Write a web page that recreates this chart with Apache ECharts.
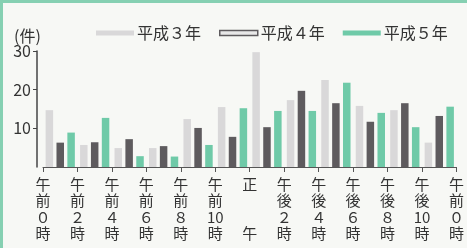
<!DOCTYPE html>
<html>
<head>
<meta charset="utf-8">
<script src="https://cdn.jsdelivr.net/npm/echarts@6/dist/echarts.min.js"></script>
<style>
  html, body { margin: 0; padding: 0; }
  #chart {
    width: 467px;
    height: 248px;
    background: #f7f8f5;
    box-shadow: inset 3px 3px 0 #86d0b2;
  }
</style>
</head>
<body>
<div id="chart"></div>
<script>
// 2時間ごとの区間 (12区間)
const groups = ['0-2', '2-4', '4-6', '6-8', '8-10', '10-12', '12-14', '14-16', '16-18', '18-20', '20-22', '22-24']
// 区間の境目に置く目盛りラベル
const tickLabels = [
  '午\n前\n０\n時', '午\n前\n２\n時', '午\n前\n４\n時', '午\n前\n６\n時', '午\n前\n８\n時',
  '午\n前\n10\n時', '正\n\n\n午', '午\n後\n２\n時', '午\n後\n４\n時', '午\n後\n６\n時',
  '午\n後\n８\n時', '午\n後\n10\n時', '午\n前\n０\n時'
]
const seriesNames = ['平成３年', '平成４年', '平成５年']
const h3 = [14.7, 5.7, 4.9, 4.9, 12.4, 15.5, 29.7, 17.3, 22.5, 15.8, 14.7, 6.3]
const h4 = [6.3, 6.4, 7.2, 5.4, 10.1, 7.8, 10.3, 19.7, 16.5, 11.7, 16.5, 13.2]
const h5 = [8.9, 12.7, 2.8, 2.7, 5.7, 15.2, 14.5, 14.5, 21.8, 14.0, 10.3, 15.6]
const yTicks = [0, 10, 20, 30]

const font = '"Noto Sans CJK JP", "Noto Sans", sans-serif'
const colors = ['#d9d8d9', '#5e5b5e', '#6fcaa8']

const chart = echarts.init(document.getElementById('chart'))
chart.setOption({
  animation: false,
  textStyle: { fontFamily: font },
  title: {
    text: '(件)',
    left: 9,
    top: 23,
    textStyle: { fontSize: 16, fontWeight: 'normal', color: '#333', fontFamily: font }
  },
  legend: {
    top: 20,
    left: 91,
    itemWidth: 38,
    itemHeight: 5,
    itemGap: 18,
    icon: 'rect',
    textStyle: { fontSize: 16, color: '#333', fontFamily: font, padding: [0, 0, 0, -2] },
    data: [
      { name: seriesNames[0], itemStyle: { color: colors[0] } },
      { name: seriesNames[1], itemStyle: { color: '#e8e8e8', borderColor: colors[1], borderWidth: 1.5 } },
      { name: seriesNames[2], itemStyle: { color: colors[2] } }
    ]
  },
  grid: {
    left: 43,
    right: 7,
    top: 51,
    bottom: 81
  },
  xAxis: [{
    type: 'category',
    position: 'bottom',
    data: groups,
    boundaryGap: true,
    axisLine: { lineStyle: { color: '#555', width: 1 } },
    axisTick: { show: true, interval: 0, length: 5, lineStyle: { color: '#555' } },
    axisLabel: { show: false }
  }, {
    type: 'category',
    position: 'bottom',
    data: tickLabels,
    boundaryGap: false,
    axisLine: { show: false },
    axisTick: { show: false },
    axisLabel: {
      interval: 0,
      margin: 9,
      fontSize: 15,
      lineHeight: 16.5,
      color: '#333',
      fontFamily: font
    }
  }],
  yAxis: {
    type: 'value',
    min: yTicks[0],
    max: yTicks[yTicks.length - 1],
    interval: 10,
    offset: 6,
    splitLine: { show: false },
    axisLine: { show: true, lineStyle: { color: '#444', width: 1.5 } },
    axisTick: { show: true, length: 4, lineStyle: { color: '#444' } },
    axisLabel: {
      showMinLabel: false,
      margin: 6,
      fontSize: 16,
      color: '#333',
      fontFamily: font
    }
  },
  series: [h3, h4, h5].map((d, i) => ({
    name: seriesNames[i],
    type: 'bar',
    xAxisIndex: 0,
    data: d,
    barWidth: 7.5,
    barGap: '45%',
    itemStyle: { color: colors[i] }
  }))
})
</script>
</body>
</html>
